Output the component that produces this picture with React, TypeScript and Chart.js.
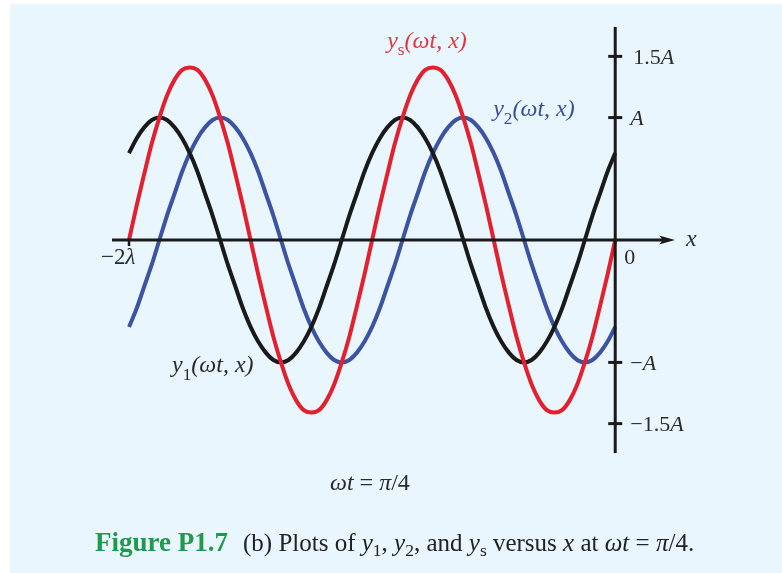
import React, { useEffect, useRef } from "react";
import { Chart, registerables } from "chart.js";

Chart.register(...registerables);

// Sample positions along x, in wavelengths (λ/32 spacing from −2λ to 0)
const X_LAMBDA = [
  -2, -1.96875, -1.9375, -1.90625, -1.875, -1.84375, -1.8125, -1.78125,
  -1.75, -1.71875, -1.6875, -1.65625, -1.625, -1.59375, -1.5625, -1.53125,
  -1.5, -1.46875, -1.4375, -1.40625, -1.375, -1.34375, -1.3125, -1.28125,
  -1.25, -1.21875, -1.1875, -1.15625, -1.125, -1.09375, -1.0625, -1.03125,
  -1, -0.96875, -0.9375, -0.90625, -0.875, -0.84375, -0.8125, -0.78125,
  -0.75, -0.71875, -0.6875, -0.65625, -0.625, -0.59375, -0.5625, -0.53125,
  -0.5, -0.46875, -0.4375, -0.40625, -0.375, -0.34375, -0.3125, -0.28125,
  -0.25, -0.21875, -0.1875, -0.15625, -0.125, -0.09375, -0.0625, -0.03125,
  0,
];

// Wave values in units of A at ωt = π/4
const Y1 = [
  0.71, 0.83, 0.92, 0.98, 1, 0.98, 0.92, 0.83, 0.71, 0.56, 0.38, 0.2, 0, -0.2, -0.38, -0.56,
  -0.71, -0.83, -0.92, -0.98, -1, -0.98, -0.92, -0.83, -0.71, -0.56, -0.38, -0.2, 0, 0.2, 0.38, 0.56,
  0.71, 0.83, 0.92, 0.98, 1, 0.98, 0.92, 0.83, 0.71, 0.56, 0.38, 0.2, 0, -0.2, -0.38, -0.56,
  -0.71, -0.83, -0.92, -0.98, -1, -0.98, -0.92, -0.83, -0.71, -0.56, -0.38, -0.2, 0, 0.2, 0.38, 0.56,
  0.71,
];
const Y2 = [
  -0.71, -0.56, -0.38, -0.2, 0, 0.2, 0.38, 0.56, 0.71, 0.83, 0.92, 0.98, 1, 0.98, 0.92, 0.83,
  0.71, 0.56, 0.38, 0.2, 0, -0.2, -0.38, -0.56, -0.71, -0.83, -0.92, -0.98, -1, -0.98, -0.92, -0.83,
  -0.71, -0.56, -0.38, -0.2, 0, 0.2, 0.38, 0.56, 0.71, 0.83, 0.92, 0.98, 1, 0.98, 0.92, 0.83,
  0.71, 0.56, 0.38, 0.2, 0, -0.2, -0.38, -0.56, -0.71, -0.83, -0.92, -0.98, -1, -0.98, -0.92, -0.83,
  -0.71,
];
const YS = [
  0, 0.28, 0.54, 0.79, 1, 1.18, 1.31, 1.39, 1.41, 1.39, 1.31, 1.18, 1, 0.79, 0.54, 0.28,
  0, -0.28, -0.54, -0.79, -1, -1.18, -1.31, -1.39, -1.41, -1.39, -1.31, -1.18, -1, -0.79, -0.54, -0.28,
  0, 0.28, 0.54, 0.79, 1, 1.18, 1.31, 1.39, 1.41, 1.39, 1.31, 1.18, 1, 0.79, 0.54, 0.28,
  0, -0.28, -0.54, -0.79, -1, -1.18, -1.31, -1.39, -1.41, -1.39, -1.31, -1.18, -1, -0.79, -0.54, -0.28,
  0,
];

// Vertical axis ticks (units of A) and their labels
const Y_TICKS = [1.5, 1, -1, -1.5];
const Y_TICK_LABELS = ["1.5A", "A", "−A", "−1.5A"];

const RED = "#e3202f";
const BLUE = "#3c52a3";
const BLACK = "#1a1a1a";
const GREEN = "#1e9a4c";
const TEXT = "#2b2b2b";
const PANEL = "#eaf6fd";
const SERIF = '"Liberation Serif", "Times New Roman", serif';

type Seg = { t: string; it?: boolean; sub?: boolean; bold?: boolean };

function drawRich(
  ctx: CanvasRenderingContext2D,
  segs: Seg[],
  x: number,
  y: number,
  size: number,
  color: string,
  subScale = 0.72,
  subDrop = 0.32
) {
  ctx.save();
  ctx.fillStyle = color;
  ctx.textBaseline = "alphabetic";
  ctx.textAlign = "left";
  let cx = x;
  for (const s of segs) {
    const fs = s.sub ? size * subScale : size;
    ctx.font = `${s.it ? "italic " : ""}${s.bold ? "bold " : ""}${fs}px ${SERIF}`;
    ctx.fillText(s.t, cx, y + (s.sub ? size * subDrop : 0));
    cx += ctx.measureText(s.t).width;
  }
  ctx.restore();
  return cx - x;
}

// Turns "1.5A" / "−A" into segments with an italic A
function tickSegs(label: string): Seg[] {
  const body = label.slice(0, -1);
  const segs: Seg[] = [];
  if (body) segs.push({ t: body });
  segs.push({ t: "A", it: true });
  return segs;
}

const backgroundPlugin = {
  id: "panelBackground",
  beforeDraw(chart: Chart) {
    const { ctx, width, height } = chart;
    ctx.save();
    ctx.fillStyle = "#ffffff";
    ctx.fillRect(0, 0, width, height);
    ctx.fillStyle = PANEL;
    ctx.fillRect(10, 4, width - 10, height - 4);
    ctx.restore();
  },
};

const axesPlugin = {
  id: "originAxes",
  afterDatasetsDraw(chart: Chart) {
    const { ctx, chartArea } = chart;
    const xs = chart.scales.x;
    const ys = chart.scales.y;
    const x0 = xs.getPixelForValue(0);
    const y0 = ys.getPixelForValue(0);

    ctx.save();
    ctx.strokeStyle = BLACK;
    ctx.fillStyle = BLACK;
    ctx.lineCap = "butt";

    // horizontal axis with arrow
    const tipX = chartArea.right - 1;
    ctx.lineWidth = 3;
    ctx.beginPath();
    ctx.moveTo(chartArea.left, y0);
    ctx.lineTo(tipX - 10, y0);
    ctx.stroke();
    ctx.beginPath();
    ctx.moveTo(tipX, y0);
    ctx.lineTo(tipX - 16, y0 - 4.5);
    ctx.lineTo(tipX - 12, y0);
    ctx.lineTo(tipX - 16, y0 + 4.5);
    ctx.closePath();
    ctx.fill();

    // vertical axis
    ctx.beginPath();
    ctx.moveTo(x0, chartArea.top);
    ctx.lineTo(x0, chartArea.bottom);
    ctx.stroke();

    // vertical axis tick marks
    for (const v of Y_TICKS) {
      const py = ys.getPixelForValue(v);
      ctx.beginPath();
      ctx.moveTo(x0 - 7, py);
      ctx.lineTo(x0 + 7, py);
      ctx.stroke();
    }

    // −2λ tick
    const xm2 = xs.getPixelForValue(-2);
    ctx.lineWidth = 2.5;
    ctx.beginPath();
    ctx.moveTo(xm2, y0);
    ctx.lineTo(xm2, y0 + 6);
    ctx.stroke();
    ctx.restore();

    // tick labels
    Y_TICKS.forEach((v, i) => {
      const py = ys.getPixelForValue(v);
      const lbl = Y_TICK_LABELS[i];
      const dx = lbl.startsWith("−") || lbl === "A" ? 15 : 18;
      drawRich(ctx, tickSegs(lbl), x0 + dx, py + 7.5, 22, TEXT);
    });
    drawRich(ctx, [{ t: "0" }], x0 + 9, y0 + 24, 22, TEXT);
    drawRich(ctx, [{ t: "x", it: true }], tipX + 11, y0 + 6, 24, TEXT);
    drawRich(ctx, [{ t: "−2" }, { t: "λ", it: true }], xm2 - 28, y0 + 24, 23, TEXT);

    // curve labels
    drawRich(
      ctx,
      [{ t: "y", it: true }, { t: "s", sub: true }, { t: "(ωt, x)", it: true }],
      xs.getPixelForValue(-0.938),
      ys.getPixelForValue(1.57),
      24,
      "#e4353f"
    );
    drawRich(
      ctx,
      [{ t: "y", it: true }, { t: "2", sub: true }, { t: "(ωt, x)", it: true }],
      xs.getPixelForValue(-0.502),
      ys.getPixelForValue(1.01),
      24,
      "#3a4e9e"
    );
    drawRich(
      ctx,
      [{ t: "y", it: true }, { t: "1", sub: true }, { t: "(ωt, x)", it: true }],
      xs.getPixelForValue(-1.823),
      ys.getPixelForValue(-1.08),
      24,
      TEXT
    );
  },
  afterDraw(chart: Chart) {
    const { ctx } = chart;
    // time annotation
    drawRich(
      ctx,
      [{ t: "ωt", it: true }, { t: " = " }, { t: "π", it: true }, { t: "/4" }],
      330,
      490,
      24,
      TEXT
    );
    // caption
    drawRich(ctx, [{ t: "Figure P1.7", bold: true }], 95, 551, 27, GREEN);
    drawRich(
      ctx,
      [
        { t: "(b) Plots of " },
        { t: "y", it: true },
        { t: "1", sub: true },
        { t: ", " },
        { t: "y", it: true },
        { t: "2", sub: true },
        { t: ", and " },
        { t: "y", it: true },
        { t: "s", sub: true },
        { t: " versus " },
        { t: "x", it: true },
        { t: " at " },
        { t: "ωt", it: true },
        { t: " = " },
        { t: "π", it: true },
        { t: "/4." },
      ],
      243,
      551,
      25,
      "#222222",
      0.7,
      0.2
    );
  },
};

export default function App() {
  const canvasRef = useRef<HTMLCanvasElement | null>(null);

  useEffect(() => {
    const canvas = canvasRef.current;
    if (!canvas) return;
    const mk = (data: number[]) => X_LAMBDA.map((x, i) => ({ x, y: data[i] }));
    const lineStyle = {
      borderWidth: 4,
      pointRadius: 0,
      fill: false,
      cubicInterpolationMode: "monotone" as const,
      borderCapStyle: "butt" as const,
    };
    const chart = new Chart(canvas, {
      type: "line",
      data: {
        datasets: [
          { label: "ys", data: mk(YS), borderColor: RED, ...lineStyle },
          { label: "y1", data: mk(Y1), borderColor: BLACK, ...lineStyle },
          { label: "y2", data: mk(Y2), borderColor: BLUE, ...lineStyle },
        ],
      },
      options: {
        responsive: false,
        animation: false,
        events: [],
        layout: { padding: { left: 112, right: 106, top: 27, bottom: 120 } },
        scales: {
          x: { type: "linear", min: -2.07, max: 0.25, display: false },
          y: { type: "linear", min: -1.74, max: 1.74, display: false },
        },
        plugins: {
          legend: { display: false },
          tooltip: { enabled: false },
        },
      },
      plugins: [backgroundPlugin, axesPlugin],
    });
    return () => chart.destroy();
  }, []);

  return (
    <div style={{ position: "absolute", left: 0, top: 0, width: 782, height: 573 }}>
      <canvas ref={canvasRef} width={782} height={573} style={{ display: "block" }} />
    </div>
  );
}
